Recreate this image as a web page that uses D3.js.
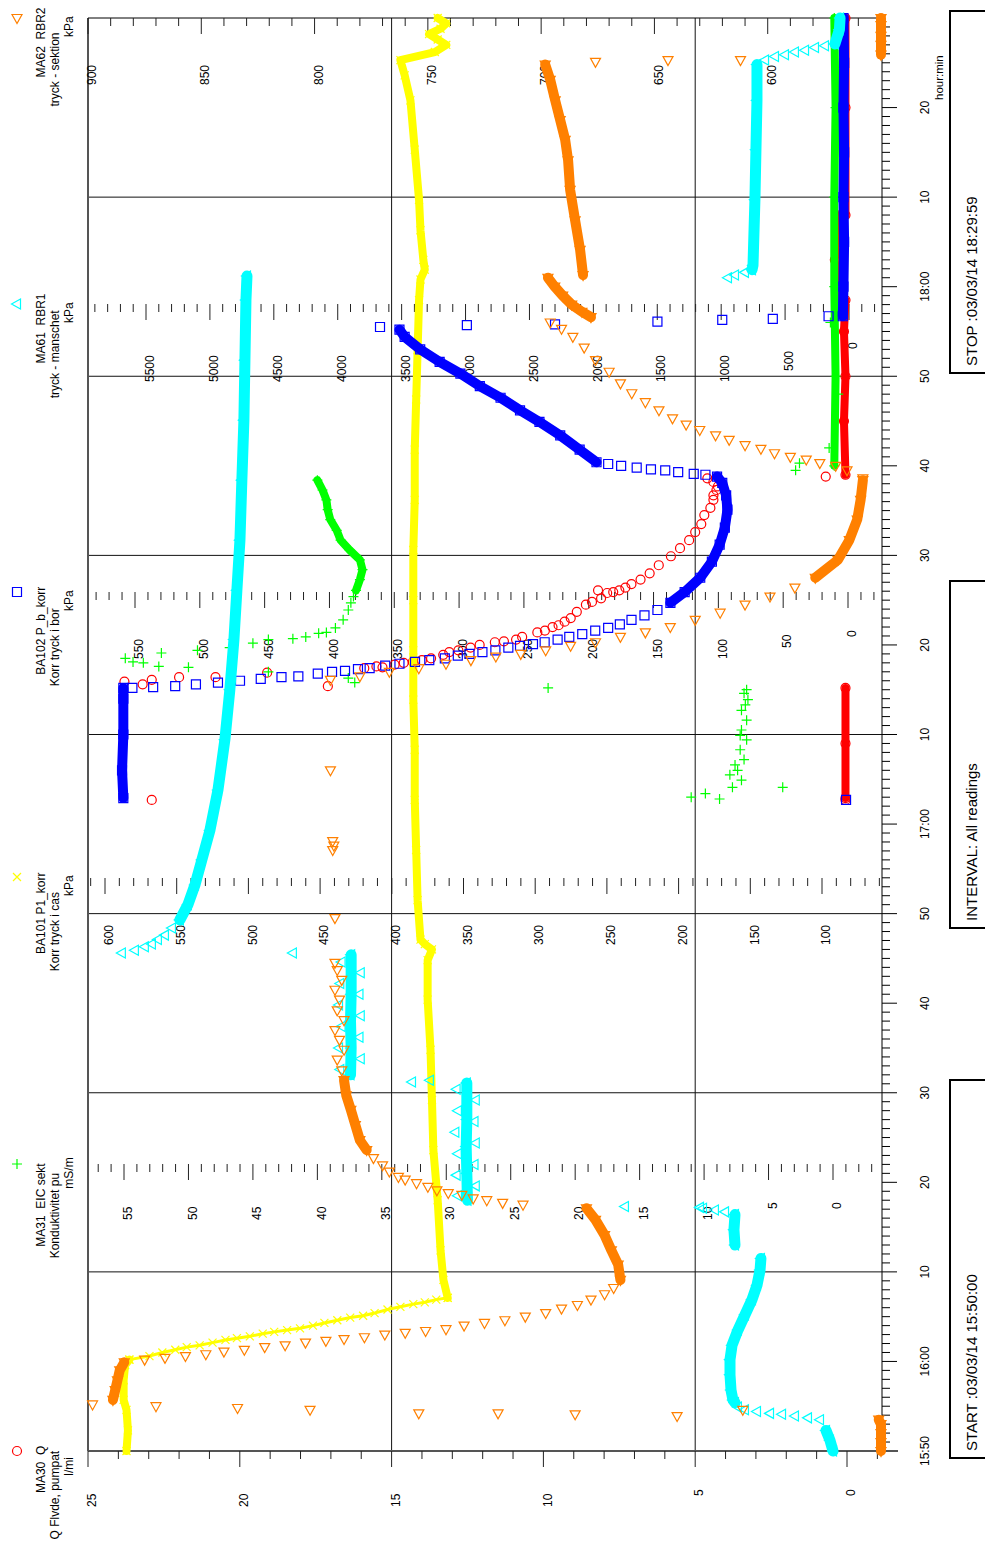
<!DOCTYPE html>
<html>
<head>
<meta charset="utf-8">
<script src="https://cdn.jsdelivr.net/npm/d3@7"></script>
<style>
  body { margin: 0; background: #fff; }
  svg text { font-family: "Liberation Sans", Arial, sans-serif; white-space: pre; }
</style>
</head>
<body>
<svg id="chart" width="985" height="1544"></svg>
<script>
// ---- Readings: [minutes after 15:50:00, value] ----
// Dense logging stretches ("band") and individual readings ("dots").

// MA30 Q  – pumped flow, l/min
const ma30Band = [
  [[72.9,0.05],[79,0.05],[85.2,0.05]],
  [[109,0.05],[115,0.1],[120,0.05],[125,0.1],[128.5,0.05]],
  [[128.5,0.35],[133,0.4],[138,0.35]],
  [[138,0.05],[150,0.05],[160,0.05]]
];
const ma30Dots = [
  [72.7,22.9],[72.7,0.05],[85.9,23.8],[85.6,23.2],[86.1,22.9],[86.4,22.0],[86.4,20.8],[86.9,19.1],[85.4,17.1],
  [87.4,15.9],[87.5,15.3],[87.6,15.5],[87.8,14.9],[88.0,14.6],[88.1,14.3],[88.3,14.0],[88.5,13.7],[88.9,13.3],
  [89.2,13.1],[89.4,12.8],[89.7,12.4],[90.0,12.1],[90.3,11.6],[90.4,11.3],[90.6,10.9],[90.9,10.7],[91.4,10.2],
  [91.6,9.95],[92.0,9.7],[92.2,9.5],[92.6,9.3],[93.0,9.1],[93.7,8.9],[94.5,8.6],[94.8,8.4],[95.2,8.1],
  [95.8,7.9],[95.9,7.7],[96.1,7.5],[96.1,8.2],[96.4,7.3],[96.8,7.1],[97.3,6.8],[98.0,6.5],[98.9,6.2],
  [99.9,5.8],[100.8,5.5],[101.7,5.2],[102.6,5.0],[103.5,4.8],[104.5,4.7],[105.3,4.5],[106.2,4.4],
  [106.7,4.4],[107.3,4.3],[107.7,4.25],[108.2,4.4],[108.6,4.6],[108.8,0.7]
];

// MA31 EIC sekt – conductivity, mS/m
const ma31Band = [
  [[96.1,37.0],[97.3,36.7],[98.4,36.5],[99.5,36.7],[100.6,37.5],[101.7,38.2],[102.8,38.5],[104,39.0],[105.1,39.2],[106.2,39.3],[107.3,39.6],[108.4,40.0]],
  [[110,-0.1],[120,-0.2],[130,-0.1],[140,-0.1],[150,-0.2],[160,-0.1]]
];
const ma31Dots = [
  [73.0,11.0],[73.4,9.9],[72.8,8.8],[74.1,7.8],[74.1,3.9],[74.9,7.1],[75.5,8.0],[76.0,7.4],[76.6,7.6],
  [77.2,6.9],[78.3,7.2],[79.4,6.7],[79.9,7.2],[80.5,7.1],[81.6,6.7],[82.7,7.1],[83.3,6.8],[83.9,6.6],
  [84.6,6.9],[85.0,6.7],[85.2,22.1],[85.8,37.1],[86.3,37.6],[87.0,43.8],
  [88.5,54.9],[88.1,54.3],[88.0,53.5],[87.6,52.3],[89.1,52.1],[87.5,50.0],[89.4,49.3],[89.7,46.8],
  [90.2,45.0],[90.6,43.8],[90.7,41.9],[90.9,40.9],[91.3,39.9],[91.4,39.3],[91.9,38.6],[92.8,38.0],
  [93.9,37.6],[94.7,37.4],[95.4,37.2],[109.5,2.9],[110.3,2.6],[112,0.3],[118,-0.4],[126,0.2]
];

// BA101 P1_korr – corrected casing pressure, kPa
const ba101Band = [
  [[0,585],[2.3,584],[4.6,585],[5.7,587],[7.9,587],[9.6,586],[10.2,583]],
  [[17.1,361],[19.1,364],[22.4,366],[28,368],[33.6,371],[39.2,372],
   [44.8,373],[50.4,375],[54.8,375],[56.0,372],[56.6,377],[57.1,380],[61.5,382],[67.1,383],[72.7,384],
   [78.3,384],[83.9,385],[89.4,385],[95,385],[100.6,385],[106.2,384],[111.8,384],[117.4,383],[122.9,382],
   [128.5,381],[130.8,380],[131.9,377],[133,378],[136.3,380],[139.7,381],[145.3,384],[150.8,387],
   [153.6,391],[155.3,394],[156.2,370],[157.0,362],[157.6,368],[158.2,374],[158.8,366],[159.4,362],[160,368]]
];
const ba101Sweep = [
  [10.2,583],[10.6,569],[11.0,560],[11.3,551],[11.6,543],[11.8,534],[12.1,525],[12.4,516],[12.6,508],[12.8,499],
  [13.1,490],[13.3,482],[13.5,473],[13.7,464],[14.0,455],[14.3,447],[14.6,438],[14.9,429],[15.1,420],
  [15.4,412],[15.8,403],[16.1,394],[16.4,385],[16.6,377],[16.9,369],[17.1,361]
];

// BA102 P_b_korr – corrected borehole pressure, kPa
const ba102Band = [
  [[72.9,559],[76,560],[80,559],[84,559],[85.2,559]],
  [[94.7,137],[95.9,126],[97.5,114],[99.3,105],[101.2,99],[103.1,95],[105.1,93],[106.7,94],[108.1,97],[108.8,101]],
  [[110.4,194],[111.8,207],[113.4,222],[114.9,238],[116.2,253],[117.6,268],[118.9,284],[120.3,299],[121.6,315],[123,330],[124.4,342],[125.2,346]],
  [[126.7,4],[130,3.5],[135,3],[140,3.5],[145,3],[150,3.5],[155,3],[160,3.5]]
];
const ba102Dots = [
  [72.7,1.5],[85.2,552],[85.3,536],[85.4,519],[85.6,503],[85.8,486],[86.0,469],[86.2,453],[86.4,437],
  [86.5,424],[86.8,409],[87.0,398],[87.1,388],[87.3,378],[87.4,369],[87.7,357],[87.9,346],[88.1,334],
  [88.3,323],[88.5,311],[88.8,301],[89.0,292],[89.2,282],[89.4,272],[89.7,262],[89.9,253],[90.1,243],
  [90.3,234],[90.6,224],[90.9,215],[91.2,205],[91.6,195],[91.9,185],[92.3,176],[92.8,167],[93.3,157],
  [93.9,147],[109.0,110],[109.1,119],[109.3,131],[109.5,141],[109.6,152],[109.8,163],[110.0,175],
  [110.2,185],[125.5,361],[125.7,294],[125.8,226],[126.1,147],[126.3,97],[126.4,58],[126.7,15]
];

// MA61 RBR1 – packer pressure, kPa
const ma61Band = [
  [[0,125],[1.2,149],[2.3,180]],
  [[5.4,892],[5.7,908],[6.8,923],[8.5,931],[10.2,931],[11.8,915],[13.5,869],[15.2,814],[16.9,759],[18.5,720],[20.2,696],[21.5,689]],
  [[23.0,892],[24.7,900],[26.4,892]],
  [[28,2985],[31,2990],[34,2995],[37,2990],[41.1,2990]],
  [[42,3900],[45,3895],[48,3900],[51,3895],[55.4,3895]],
  [[59.3,5235],[61,5172],[63.2,5117],[66,5063],[69.3,5000],[73.8,4937],[79.4,4883],[85,4844],[90.6,4812],[96.1,4789],[101.7,4765],[108.4,4750],[115.1,4734],[121.8,4726],[128.5,4718],[131.2,4710]],
  [[131.9,759],[132.4,751],[139.7,736],[145.3,728],[150.8,720],[154.8,720]],
  [[157.1,110],[158.7,75],[160,70]]
];
const ma61Dots = [
  [3.5,227],[3.7,321],[3.9,423],[4.1,524],[4.2,618],[4.4,720],[4.6,814],[4.9,869],
  [26.7,970],[26.9,1049],[27.1,1142],[27.2,1166],[27.3,1753],
  [28.5,3060],[29.6,2920],[30.8,3070],[32.0,2930],[33.2,3060],[34.4,2920],[35.6,3080],[36.8,2930],
  [38.0,3060],[39.2,2920],[40.4,3070],[41.2,3419],[41.4,3279],
  [42.6,3980],[43.8,3820],[45.0,3990],[46.2,3830],[47.4,3970],[48.6,3820],[49.8,3990],[51.0,3830],
  [52.2,3980],[53.4,3820],[54.6,3970],[55.6,4351],
  [55.6,5689],[55.9,5587],[56.3,5509],[56.6,5454],[57.1,5407],[57.6,5352],[58.4,5297],
  [131.0,947],[131.3,892],[131.6,814],
  [155.3,657],[155.7,579],[155.9,501],[156.2,423],[156.4,344],[156.7,266],[156.9,188]
];

// MA62 RBR2 – section pressure, kPa
const ma62Band = [
  [[0,550],[1,550],[2,550],[3,550],[3.5,551]],
  [[5.7,889],[6.8,888],[7.9,887],[9,886],[9.9,884]],
  [[19.1,665],[20.8,666],[22.4,669],[24.1,672],[25.8,676],[27.1,680]],
  [[33.6,777],[34.7,780],[36.4,782],[38.1,784],[39.7,786],[41.4,787]],
  [[97.5,579],[99.5,569],[101.7,564],[104,560.5],[106.2,559],[108.4,558]],
  [[126.6,678],[127.2,682],[128,686.5],[129,690.5],[130,694],[131,697]],
  [[131.3,681.5],[134.1,682.8],[137.4,685],[140.8,687.2],[144.1,688.1],[146.4,689.4],[148.6,691.6],[150.8,693.8],[153.1,696],[154.8,698.2]],
  [[155.9,550],[157,550],[158,550],[159.2,550],[160,550]]
];
const ma62Dots = [
  [3.9,640],[4.1,685],[4.2,719],[4.2,754],[4.6,802],[4.8,834],[5.0,870],[5.2,898],[4.6,611],
  [10.2,875],[10.4,866],[10.6,857],[10.8,848],[11.1,840],[11.3,831],[11.6,822],[11.8,813],[12.1,804],
  [12.3,795],[12.5,787],[12.7,778],[13.0,769],[13.2,760],[13.4,751],[13.6,742],[14.0,734],[14.3,725],
  [14.6,716],[15.0,707],[15.4,698],[15.9,691],[16.3,684],[16.9,678],[17.5,672],[18.2,668],
  [27.5,708],[27.7,717],[28.0,724],[28.2,730],[28.6,735],[28.8,741],[29.1,746],[29.5,750],[29.9,755],
  [30.3,760],[30.6,763],[31.2,767],[31.9,770],[32.7,774],
  [42.5,788],[43.7,790],[44.8,787],[45.9,789],[47.0,791],[48.1,787],[49.2,790],[50.4,789],[51.5,791],
  [52.6,788],[53.7,790],[54.5,791],[59.5,791],[67.1,792],[67.6,791.5],[68.1,792],[76.0,793],
  [86.1,793],[86.5,780],[87.0,767],[87.4,754],[87.9,742],[88.3,731],[88.7,720],[89.0,709],[89.4,698],
  [89.9,687],[90.3,676],[90.9,665],[91.4,654],[92.0,643],[92.8,632],[93.6,621],[94.5,610],[95.4,599],
  [96.4,588],
  [108.6,558],[109.5,565],[110.0,570],[110.3,577],[110.7,583],[111.0,590],[111.4,597],[111.9,603],
  [112.3,610],[112.9,617],[113.4,623],[114.0,630],[114.6,636],[115.3,642],[116.2,648],[117.1,654],
  [118.1,660],[119.2,665],[120.5,670],[121.8,676],[123.2,681],[124.4,686],[125.3,691],[126.0,696],
  [155.1,676],[155.3,644],[155.3,612]
];

// ---- Axis labels ----
const timeLabels = ["15:50","16:00","10","20","30","40","50","17:00","10","20","30","40","50","18:00","10","20"];
const ma30Ticks  = [0,5,10,15,20,25];
const ma31Ticks  = [0,5,10,15,20,25,30,35,40,45,50,55];
const ba101Ticks = [100,150,200,250,300,350,400,450,500,550,600];
const ba102Ticks = [0,50,100,150,200,250,300,350,400,450,500,550];
const ma61Ticks  = [0,500,1000,1500,2000,2500,3000,3500,4000,4500,5000,5500];
const ma62Ticks  = [600,650,700,750,800,850,900];

const legendText = {
  ma30:  ["MA30  Q", "Q Flvde, pumpat", "l/mi"],
  ma31:  ["MA31  EIC sekt", "Konduktivitet pu", "mS/m"],
  ba101: ["BA101 P1_korr", "Korr tryck i cas", "kPa"],
  ba102: ["BA102 P_b_korr", "Korr tryck i bor", "kPa"],
  ma61:  ["MA61  RBR1", "tryck - manschet", "kPa"],
  ma62:  ["MA62  RBR2", "tryck - sektion", "kPa"]
};

// ---- Layout (drawn in a landscape frame, then turned a quarter turn) ----
const W = 1544;
const plotTop = 88, plotBottom = 882;
const svg = d3.select("#chart");
const g = svg.append("g").attr("transform", `translate(0,${W}) rotate(-90)`);

const x = d3.scaleLinear().domain([0, 160]).range([93, 1526]);
const yQ    = d3.scaleLinear().domain([0, 25]).range([847, 88]);
const yEC   = d3.scaleLinear().domain([0, 55]).range([833, 124]);
const yP1   = d3.scaleLinear().domain([100, 600]).range([822, 105]);
const yPb   = d3.scaleLinear().domain([0, 550]).range([848, 135]);
const yR1   = d3.scaleLinear().domain([0, 5500]).range([849, 146]);
const yR2   = d3.scaleLinear().domain([550, 900]).range([881, 88]);

// grid
g.append("g").selectAll("line").data([5, 15]).join("line")
  .attr("x1", x(0)).attr("x2", x(160)).attr("y1", d => yQ(d)).attr("y2", d => yQ(d))
  .attr("stroke", "#111").attr("stroke-width", 1);
g.append("g").selectAll("line").data(d3.range(20, 160, 20)).join("line")
  .attr("x1", d => x(d)).attr("x2", d => x(d)).attr("y1", plotTop).attr("y2", plotBottom)
  .attr("stroke", "#111").attr("stroke-width", 1);

// frame
g.append("line").attr("x1", x(0)).attr("x2", x(160)).attr("y1", plotTop).attr("y2", plotTop)
  .attr("stroke", "#555").attr("stroke-width", 2);
g.append("line").attr("x1", x(0)).attr("x2", x(0)).attr("y1", plotTop).attr("y2", plotBottom + 16)
  .attr("stroke", "#555").attr("stroke-width", 2);
g.append("line").attr("x1", x(160)).attr("x2", x(160)).attr("y1", plotTop).attr("y2", plotBottom)
  .attr("stroke", "#000").attr("stroke-width", 1);

// time axis along the bottom
const tAxis = g.append("g");
tAxis.append("line").attr("x1", x(0)).attr("x2", x(160)).attr("y1", plotBottom).attr("y2", plotBottom)
  .attr("stroke", "#000");
tAxis.selectAll("line.t").data(d3.range(1, 160)).join("line").attr("class", "t")
  .attr("x1", d => x(d)).attr("x2", d => x(d))
  .attr("y1", plotBottom).attr("y2", d => plotBottom + (d % 10 === 0 ? 15 : 8))
  .attr("stroke", "#000");
tAxis.selectAll("text").data(timeLabels).join("text")
  .attr("x", (d, i) => x(i * 10)).attr("y", 929)
  .attr("text-anchor", "middle").attr("font-size", 12).text(d => d);
tAxis.append("text").attr("x", 1444).attr("y", 943).attr("font-size", 11.5).text("hour:min");

// value tick rows; number labels sit left of each row
function tickRow(axisX, scale, step, major, labels) {
  const a = scale.invert(plotBottom), b = scale.invert(plotTop);
  const lo = Math.min(a, b), hi = Math.max(a, b);
  const n0 = Math.ceil(lo / step - 1e-6), n1 = Math.floor(hi / step + 1e-6);
  const vals = d3.range(n0, n1 + 1).map(k => k * step);
  const row = g.append("g");
  row.selectAll("line").data(vals).join("line")
    .attr("x1", axisX)
    .attr("x2", d => axisX - (Math.abs(Math.round(d / step)) % (major / step) === 0 ? 16 : 8))
    .attr("y1", d => scale(d)).attr("y2", d => scale(d))
    .attr("stroke", "#222").attr("stroke-width", 1);
  row.selectAll("text").data(labels).join("text")
    .attr("x", d => axisX - 34 - 11 * String(d).length)
    .attr("y", d => scale(d) + 4).attr("dy", "0.35em")
    .attr("font-size", 12).text(d => d);
}
tickRow(x(0), yQ, 1, 5, ma30Ticks);
tickRow(380, yEC, 1, 5, ma31Ticks);
tickRow(666, yP1, 10, 50, ba101Ticks);
tickRow(952, yPb, 10, 50, ba102Ticks);
tickRow(1240, yR1, 100, 500, ma61Ticks);
tickRow(1526, yR2, 10, 50, ma62Ticks);

// markers
const shapes = {
  circle: "M4.5,0A4.5,4.5 0 1,1 -4.5,0A4.5,4.5 0 1,1 4.5,0Z",
  plus:   "M-5,0H5M0,-5V5",
  cross:  "M-4,-4L4,4M-4,4L4,-4",
  square: "M-4.5,-4.5H4.5V4.5H-4.5Z",
  triUp:  "M0,-5.5L5,3.5L-5,3.5Z",
  triLeft:"M-5.5,0L3.5,-5L3.5,5Z"
};

const series = [
  { key: "ma30",  color: "#ff0000", shape: "circle",  scale: yQ,  band: ma30Band,  dots: ma30Dots,  bw: 8,  pos: 93 },
  { key: "ma31",  color: "#00ff00", shape: "plus",    scale: yEC, band: ma31Band,  dots: ma31Dots,  bw: 8,  pos: 380 },
  { key: "ba101", color: "#ffff00", shape: "cross",   scale: yP1, band: ba101Band, dots: ba101Sweep, bw: 8, pos: 667, thin: [ba101Sweep] },
  { key: "ba102", color: "#0000ff", shape: "square",  scale: yPb, band: ba102Band, dots: ba102Dots, bw: 10, pos: 952 },
  { key: "ma61",  color: "#00ffff", shape: "triUp",   scale: yR1, band: ma61Band,  dots: ma61Dots,  bw: 11, pos: 1240 },
  { key: "ma62",  color: "#ff8000", shape: "triLeft", scale: yR2, band: ma62Band,  dots: ma62Dots,  bw: 10, pos: 1526 }
];

series.forEach(s => {
  const layer = g.append("g");
  const line = d3.line().x(d => x(d[0])).y(d => s.scale(d[1]));
  layer.selectAll("path.band").data(s.band).join("path").attr("class", "band")
    .attr("d", line).attr("fill", "none").attr("stroke", s.color)
    .attr("stroke-width", s.bw).attr("stroke-linejoin", "round").attr("stroke-linecap", "round");
  if (s.thin) {
    layer.selectAll("path.thin").data(s.thin).join("path").attr("class", "thin")
      .attr("d", line).attr("fill", "none").attr("stroke", s.color).attr("stroke-width", 3);
  }
  const pts = s.band.flat().concat(s.dots);
  layer.selectAll("path.m").data(pts).join("path").attr("class", "m")
    .attr("d", shapes[s.shape])
    .attr("transform", d => `translate(${x(d[0])},${s.scale(d[1])})`)
    .attr("fill", "none").attr("stroke", s.color).attr("stroke-width", 1.2);

  // legend entry: symbol, then name / description / unit
  g.append("path").attr("d", shapes[s.shape])
    .attr("transform", `translate(${s.pos},17)`)
    .attr("fill", "none").attr("stroke", s.color).attr("stroke-width", 1.2);
  g.append("g").selectAll("text").data(legendText[s.key]).join("text")
    .attr("x", d => s.pos - 1.5 - 5.8 * d.length).attr("y", (d, i) => 45 + i * 14)
    .attr("font-size", 12).text(d => d);
});

// information boxes under the plot
const boxes = [
  { x0: 86,  x1: 464,  text: "START :03/03/14 15:50:00" },
  { x0: 616, x1: 963,  text: "INTERVAL: All readings" },
  { x0: 1171, x1: 1533, text: "STOP :03/03/14 18:29:59" }
];
const bx = g.append("g");
bx.selectAll("rect").data(boxes).join("rect")
  .attr("x", d => d.x0).attr("y", 950).attr("width", d => d.x1 - d.x0).attr("height", 60)
  .attr("fill", "none").attr("stroke", "#000").attr("stroke-width", 2);
bx.selectAll("text").data(boxes).join("text")
  .attr("x", d => d.x0 + 7).attr("y", 977).attr("font-size", 15).text(d => d.text);
</script>
</body>
</html>
